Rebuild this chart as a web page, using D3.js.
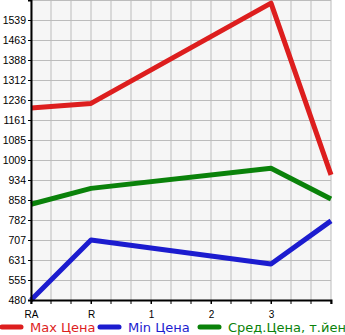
<!DOCTYPE html>
<html>
<head>
<meta charset="utf-8">
<script src="https://cdn.jsdelivr.net/npm/d3@7"></script>
<style>
  body { margin: 0; background: #fff; }
  svg { display: block; }
</style>
</head>
<body>
<svg id="chart"></svg>
<script>
var categories = ["RA", "R", "1", "2", "3", ""]
var maxPrice = [1206, 1223, null, null, 1602, 953]
var minPrice = [480, 707, null, null, 616, 779]
var avgPrice = [842, 902, null, null, 978, 862]
var yTickValues = [480, 555.6, 631.2, 706.8, 782.4, 858, 933.6, 1009.2, 1084.8, 1160.4, 1236, 1311.6, 1387.2, 1462.8, 1538.4]
var yTickLabels = ["480", "555", "631", "707", "782", "858", "934", "1009", "1085", "1161", "1236", "1312", "1388", "1463", "1539"]
var legendNames = ["Max Цена", "Min Цена", "Сред.Цена, т.йен"]

var dimensions = {
    width: 345,
    height: 335,
    margin: { top: 0, bottom: 35, right: 14, left: 31 }
}

var colors = ["#dd1e1e", "#1c1ccf", "#0a820a"]

var svg = d3.select("#chart")
    .attr("width", dimensions.width)
    .attr("height", dimensions.height)
    .style("font-family", "'DejaVu Sans', sans-serif")

var plotW = dimensions.width - dimensions.margin.left - dimensions.margin.right
var plotH = dimensions.height - dimensions.margin.top - dimensions.margin.bottom

var xScale = d3.scalePoint()
    .domain(d3.range(categories.length))
    .range([dimensions.margin.left, dimensions.margin.left + plotW])

var yScale = d3.scaleLinear()
    .domain([480, 1614])
    .range([dimensions.margin.top + plotH, dimensions.margin.top])

// background
svg.append("rect")
    .attr("x", dimensions.margin.left)
    .attr("y", dimensions.margin.top)
    .attr("width", plotW)
    .attr("height", plotH)
    .attr("fill", "#f6f6f6")

// grid: vertical every third of a category step
var step = xScale.step()
var xGrid = []
for (var i = 0; i <= (categories.length - 1) * 3; i++) {
    xGrid.push(dimensions.margin.left + i * step / 3)
}
svg.append("g").selectAll("line")
    .data(xGrid)
    .enter().append("line")
    .attr("x1", function (d) { return d })
    .attr("x2", function (d) { return d })
    .attr("y1", dimensions.margin.top)
    .attr("y2", dimensions.margin.top + plotH)
    .attr("stroke", "#bcbcbc")
    .attr("stroke-width", 1)

svg.append("g").selectAll("line")
    .data(yTickValues.concat([1614]))
    .enter().append("line")
    .attr("x1", dimensions.margin.left)
    .attr("x2", dimensions.margin.left + plotW)
    .attr("y1", function (d) { return Math.round(yScale(d)) + 0.5 })
    .attr("y2", function (d) { return Math.round(yScale(d)) + 0.5 })
    .attr("stroke", "#bcbcbc")
    .attr("stroke-width", 1)

// lines, skipping the empty categories
var line = d3.line()
    .x(function (d) { return xScale(d.i) })
    .y(function (d) { return yScale(d.v) })

var series = [maxPrice, minPrice, avgPrice]
series.forEach(function (s, k) {
    var pts = s.map(function (v, i) { return { i: i, v: v } })
        .filter(function (d) { return d.v != null })
    svg.append("path")
        .attr("d", line(pts))
        .attr("fill", "none")
        .attr("stroke", colors[k])
        .attr("stroke-width", 5)
        .attr("stroke-linejoin", "round")
})

// axes
var xAxis = d3.axisBottom(xScale)
    .tickValues(d3.range(categories.length))
    .tickFormat(function (d) { return categories[d] })
    .tickSize(4)

var gx = svg.append("g")
    .attr("transform", "translate(0," + (dimensions.margin.top + plotH) + ")")
    .call(xAxis)
gx.select(".domain").attr("stroke", "#000").attr("stroke-width", 2)
gx.selectAll("text").style("font-size", "10px").attr("fill", "#000").attr("dy", "1.05em")

// minor x ticks between categories
svg.append("g").selectAll("line")
    .data(xGrid)
    .enter().append("line")
    .attr("x1", function (d) { return d })
    .attr("x2", function (d) { return d })
    .attr("y1", dimensions.margin.top + plotH)
    .attr("y2", dimensions.margin.top + plotH + 4)
    .attr("stroke", "#000")

var yAxis = d3.axisLeft(yScale)
    .tickValues(yTickValues)
    .tickFormat(function (d, i) { return yTickLabels[i] })
    .tickSize(3)

var gy = svg.append("g")
    .attr("transform", "translate(" + dimensions.margin.left + ",0)")
    .call(yAxis)
gy.select(".domain").attr("stroke", "#000").attr("stroke-width", 2)
gy.selectAll("text").style("font-size", "10.5px").attr("fill", "#000").attr("x", -5)

// legend
var legendX = [0, 98, 198]
var legend = svg.append("g")
legendNames.forEach(function (name, k) {
    legend.append("line")
        .attr("x1", legendX[k] + 2)
        .attr("x2", legendX[k] + 21)
        .attr("y1", 327)
        .attr("y2", 327)
        .attr("stroke", colors[k])
        .attr("stroke-width", 5)
        .attr("stroke-linecap", "round")
    legend.append("text")
        .attr("x", legendX[k] + 30)
        .attr("y", 332)
        .attr("fill", colors[k])
        .style("font-size", "13px")
        .text(name)
})
</script>
</body>
</html>
